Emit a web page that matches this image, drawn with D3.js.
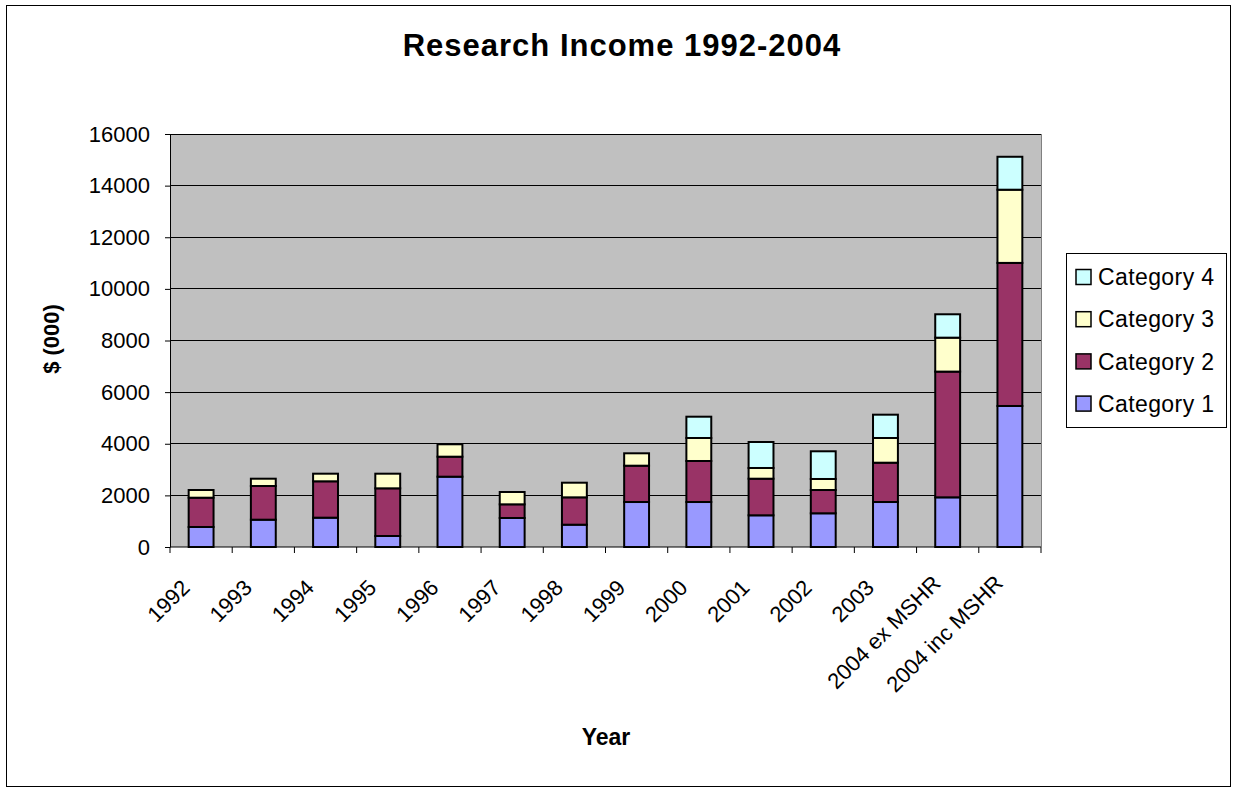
<!DOCTYPE html>
<html><head><meta charset="utf-8">
<script src="https://cdn.jsdelivr.net/npm/d3@7"></script>
<style>body{margin:0;background:#fff}svg{display:block;font-family:Arial,"Liberation Sans",sans-serif}</style>
</head><body>
<svg id="c" width="1236" height="791"></svg>
<script>
const categories = ["1992","1993","1994","1995","1996","1997","1998","1999","2000","2001","2002","2003","2004 ex MSHR","2004 inc MSHR"];
const seriesNames = ["Category 1","Category 2","Category 3","Category 4"];
const category1 = [775,1058,1136,426,2724,1124,864,1743,1743,1228,1306,1743,1924,5463];
const category2 = [1135,1305,1409,1847,775,529,1060,1407,1589,1418,902,1523,4871,5543];
const category3 = [298,283,295,567,480,478,567,480,891,415,427,957,1315,2836];
const category4 = [0,0,0,0,0,0,0,0,825,1007,1073,903,906,1276];
const yTicks = [0,2000,4000,6000,8000,10000,12000,14000,16000];
const colors = ["#9999FF","#993366","#FFFFCC","#CCFFFF"];

const svg = d3.select("#c");
svg.append("rect").attr("x",6.5).attr("y",5.5).attr("width",1224).attr("height",781).attr("fill","#fff").attr("stroke","#000").attr("stroke-width",1);

const L=170, R=1041, T=134, B=547;
const x = d3.scaleBand().domain(categories).range([L,R]).paddingInner(0.6).paddingOuter(0.3);
const xb = d3.scaleBand().domain(categories).range([L,R]);
const y = d3.scaleLinear().domain([0,16000]).range([B,T]);

svg.append("rect").attr("x",L).attr("y",T).attr("width",R-L).attr("height",B-T).attr("fill","#C0C0C0");

svg.append("g").selectAll("line").data(yTicks.slice(1)).join("line")
  .attr("x1",L).attr("x2",R).attr("y1",d=>y(d)).attr("y2",d=>y(d)).attr("stroke","#000").attr("stroke-width",1).attr("shape-rendering","crispEdges");
svg.append("line").attr("x1",R).attr("x2",R).attr("y1",T).attr("y2",B).attr("stroke","#808080").attr("shape-rendering","crispEdges");

const table = categories.map((c,i)=>({cat:c,"Category 1":category1[i],"Category 2":category2[i],"Category 3":category3[i],"Category 4":category4[i]}));
const stack = d3.stack().keys(seriesNames)(table);

stack.forEach((s,si)=>{
  svg.append("g").selectAll("rect").data(s.filter(d=>d[1]-d[0]>0)).join("rect")
    .attr("x",d=>x(d.data.cat)).attr("width",x.bandwidth())
    .attr("y",d=>y(d[1])).attr("height",d=>y(d[0])-y(d[1]))
    .attr("fill",colors[si]).attr("stroke","#000").attr("stroke-width",2);
});

// y axis
const ya = svg.append("g").attr("transform",`translate(${L},0)`)
  .call(d3.axisLeft(y).tickValues(yTicks).tickSize(5).tickSizeOuter(0).tickPadding(15).tickFormat(d3.format("d")));
ya.select(".domain").attr("stroke","#000");
ya.selectAll(".tick line").attr("stroke","#000");
ya.selectAll("text").attr("font-size",22).attr("font-family","Arial").attr("fill","#000");

// x axis
const xa = svg.append("g").attr("transform",`translate(0,${B})`);
xa.append("line").attr("x1",L).attr("x2",R).attr("stroke","#000");
const bounds = categories.map(c=>xb(c)).concat([R]);
xa.selectAll("line.t").data(bounds).join("line").attr("class","t")
  .attr("x1",d=>d).attr("x2",d=>d).attr("y1",0).attr("y2",6).attr("stroke","#000");
const xl = svg.append("g").selectAll("text").data(categories).join("text")
  .attr("text-anchor","end").attr("font-size",22).attr("font-family","Arial").text(d=>d);
xl.each(function(d){
  const len = this.getComputedTextLength();
  const s = 0.06*(len-49);
  const ex = xb(d)+xb.bandwidth()/2-10 + s*0.707;
  const ey = B+42 - s*0.707;
  d3.select(this).attr("transform",`translate(${ex},${ey}) rotate(-45)`);
});

// titles
svg.append("text").attr("x",622).attr("y",56).attr("text-anchor","middle").attr("font-size",31).attr("letter-spacing",1).attr("font-weight","bold").text("Research Income 1992-2004");
svg.append("text").attr("x",606).attr("y",745).attr("text-anchor","middle").attr("font-size",23).attr("font-weight","bold").text("Year");
svg.append("text").attr("transform","translate(59,339) rotate(-90)").attr("text-anchor","middle").attr("font-size",22).attr("font-weight","bold").text("$ (000)");

// legend
const lg = svg.append("g");
lg.append("rect").attr("x",1066.5).attr("y",253.5).attr("width",160).attr("height",174).attr("fill","#fff").attr("stroke","#000");
const order = [3,2,1,0];
order.forEach((si,k)=>{
  const cy = 277 + k*42.2;
  lg.append("rect").attr("x",1076).attr("y",cy-7.5).attr("width",15).attr("height",15).attr("fill",colors[si]).attr("stroke","#000").attr("stroke-width",1.5);
  lg.append("text").attr("x",1098).attr("y",cy).attr("dy","0.36em").attr("font-size",23).attr("letter-spacing",0.4).text(seriesNames[si]);
});
</script>
</body></html>
